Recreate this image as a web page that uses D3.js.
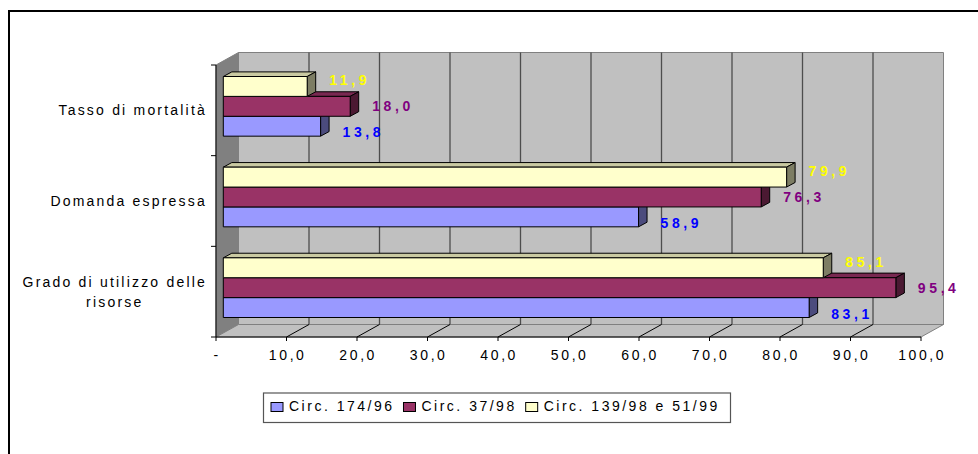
<!DOCTYPE html>
<html>
<head>
<meta charset="utf-8">
<script src="https://cdn.jsdelivr.net/npm/d3@7"></script>
<style>
  body { margin: 0; background: #fff; }
  text { font-family: Arial, "Liberation Sans", sans-serif; }
</style>
</head>
<body>
<script>
// data
var categories = ["Tasso di mortalità", "Domanda espressa", "Grado di utilizzo delle risorse"];
var seriesNames = ["Circ. 174/96", "Circ. 37/98", "Circ. 139/98 e 51/99"];
var circ17496 = [13.8, 58.9, 83.1];
var circ3798 = [18.0, 76.3, 95.4];
var circ13998e5199 = [11.9, 79.9, 85.1];
var xTicks = [0, 10, 20, 30, 40, 50, 60, 70, 80, 90, 100];

var fills = ["#9999FF", "#993366", "#FFFFCC"];
var labelColors = ["#0000FF", "#800080", "#FFFF00"];

var series = [circ17496, circ3798, circ13998e5199];

var W = 978, H = 454;
var svg = d3.select("body").append("svg")
    .attr("width", W)
    .attr("height", H);

// outer frame (only top and left visible)
svg.append("path")
    .attr("d", "M9,454 L9,11 L978,11")
    .attr("fill", "none")
    .attr("stroke", "#000")
    .attr("stroke-width", 2);

// 3d depth of the plot
var dx = 22.5, dy = -12.5;
var plotTop = 65, plotBottom = 337;

var x = d3.scaleLinear().domain([0, 100]).range([216, 921]);
var y = d3.scaleBand().domain(categories).range([plotTop, plotBottom]);
// top to bottom: last series first
var ys = d3.scaleBand().domain([2, 1, 0]).range([15.5, y.bandwidth() - 15.5]);

var fmt = function(v) { return d3.format(".1f")(v).replace(".", ","); };

var pts = function(a) { return a.map(function(p) { return p.join(","); }).join(" "); };

// back wall
svg.append("polygon")
    .attr("points", pts([[x(0) + dx, plotTop + dy], [x(100) + dx, plotTop + dy], [x(100) + dx, plotBottom + dy], [x(0) + dx, plotBottom + dy]]))
    .attr("fill", "#C0C0C0")
    .attr("stroke", "#808080")
    .attr("stroke-width", 1);

// left wall
svg.append("polygon")
    .attr("points", pts([[x(0), plotTop], [x(0) + dx, plotTop + dy], [x(0) + dx, plotBottom + dy], [x(0), plotBottom]]))
    .attr("fill", "#808080")
    .attr("stroke", "#808080")
    .attr("stroke-width", 1);

// floor
svg.append("polygon")
    .attr("points", pts([[x(0), plotBottom], [x(0) + dx, plotBottom + dy], [x(100) + dx, plotBottom + dy], [x(100), plotBottom]]))
    .attr("fill", "#C0C0C0")
    .attr("stroke", "#808080")
    .attr("stroke-width", 1);

// gridlines on back wall
svg.selectAll(".grid")
    .data(xTicks.filter(function(t) { return t > 0 && t < 100; }))
    .enter().append("line")
    .attr("class", "grid")
    .attr("x1", function(t) { return x(t) + dx; })
    .attr("x2", function(t) { return x(t) + dx; })
    .attr("y1", plotTop + dy)
    .attr("y2", plotBottom + dy)
    .attr("stroke", "#4d4d4d")
    .attr("stroke-width", 1.3);

// floor lines
svg.selectAll(".floorline")
    .data(xTicks.filter(function(t) { return t > 0 && t < 100; }))
    .enter().append("line")
    .attr("class", "floorline")
    .attr("x1", function(t) { return x(t); })
    .attr("x2", function(t) { return x(t) + dx; })
    .attr("y1", plotBottom)
    .attr("y2", plotBottom + dy)
    .attr("stroke", "#000")
    .attr("stroke-width", 1);

// front axes
svg.append("line")
    .attr("x1", x(0)).attr("x2", x(100))
    .attr("y1", plotBottom).attr("y2", plotBottom)
    .attr("stroke", "#000");
svg.append("line")
    .attr("x1", x(0)).attr("x2", x(0))
    .attr("y1", plotTop).attr("y2", plotBottom)
    .attr("stroke", "#000");

svg.selectAll(".xtick")
    .data(xTicks)
    .enter().append("line")
    .attr("x1", function(t) { return x(t); })
    .attr("x2", function(t) { return x(t); })
    .attr("y1", plotBottom)
    .attr("y2", plotBottom + 4)
    .attr("stroke", "#000");

svg.selectAll(".xlabel")
    .data(xTicks)
    .enter().append("text")
    .attr("x", function(t) { return x(t) + 1.2; })
    .attr("y", 360)
    .attr("text-anchor", "middle")
    .attr("font-size", 14)
    .attr("letter-spacing", 2.6)
    .attr("fill", "#000")
    .text(function(t) { return t == 0 ? "-" : fmt(t); });

// category ticks
var bounds = categories.map(function(c) { return y(c); }).concat([plotBottom]);
svg.selectAll(".ytick")
    .data(bounds)
    .enter().append("line")
    .attr("x1", x(0) - 5).attr("x2", x(0))
    .attr("y1", function(d) { return d; })
    .attr("y2", function(d) { return d; })
    .attr("stroke", "#000");

// category labels
categories.forEach(function(c) {
    var lines = c.length > 20 ? [c.slice(0, c.lastIndexOf(" ")), c.slice(c.lastIndexOf(" ") + 1)] : [c];
    var cy = y(c) + y.bandwidth() / 2;
    var g = svg.append("g");
    var texts = lines.map(function(l, i) {
        return g.append("text")
            .attr("y", cy + (i - (lines.length - 1) / 2) * 20 + 5)
            .attr("font-size", 14)
            .attr("letter-spacing", 2.2)
            .attr("fill", "#000")
            .attr("text-anchor", "middle")
            .text(l);
    });
    var maxW = d3.max(texts, function(t) { return t.node().getComputedTextLength(); });
    texts.forEach(function(t) { t.attr("x", 207 - maxW / 2); });
});

// bars
var fx = 7.3, fy = -4;          // front face offset into depth
var bdx = 8.5, bdy = -4.6;      // bar depth

categories.forEach(function(c, ci) {
    [0, 1, 2].forEach(function(si) {
        var v = series[si][ci];
        var x0 = x(0) + fx, x1 = x(v) + fx;
        var y0 = y(c) + ys(si) + fy, y1 = y0 + ys.bandwidth();
        var col = d3.color(fills[si]);
        var g = svg.append("g").attr("stroke", "#000").attr("stroke-width", 1).attr("stroke-linejoin", "round");
        // top face
        g.append("polygon")
            .attr("points", pts([[x0, y0], [x0 + bdx, y0 + bdy], [x1 + bdx, y0 + bdy], [x1, y0]]))
            .attr("fill", col.darker(0.65));
        // side face
        g.append("polygon")
            .attr("points", pts([[x1, y0], [x1 + bdx, y0 + bdy], [x1 + bdx, y1 + bdy], [x1, y1]]))
            .attr("fill", col.darker(2));
        // front face
        g.append("rect")
            .attr("x", x0).attr("y", y0)
            .attr("width", x1 - x0).attr("height", y1 - y0)
            .attr("fill", col);
    });
});

// value labels
var labelShift = [6, 0, -6];
categories.forEach(function(c, ci) {
    [0, 1, 2].forEach(function(si) {
        var v = series[si][ci];
        svg.append("text")
            .attr("x", x(v) + fx + 22)
            .attr("y", y(c) + ys(si) + fy + ys.bandwidth() / 2 + labelShift[si] + 5)
            .attr("font-size", 14)
            .attr("font-weight", "bold")
            .attr("letter-spacing", 3.6)
            .attr("fill", labelColors[si])
            .text(fmt(v));
    });
});

// legend
var legend = svg.append("g");
legend.append("rect")
    .attr("x", 263.5).attr("y", 393)
    .attr("width", 467).attr("height", 29.5)
    .attr("fill", "#fff")
    .attr("stroke", "#555")
    .attr("stroke-width", 1.2);

var lx = 271;
seriesNames.forEach(function(n, i) {
    legend.append("rect")
        .attr("x", lx).attr("y", 402.5)
        .attr("width", 12).attr("height", 9)
        .attr("fill", fills[i])
        .attr("stroke", "#000");
    var t = legend.append("text")
        .attr("x", lx + 18)
        .attr("y", 411)
        .attr("font-size", 14)
        .attr("letter-spacing", 2.5)
        .attr("fill", "#000")
        .text(n);
    lx = lx + 18 + t.node().getComputedTextLength() + 9;
});
</script>
</body>
</html>
